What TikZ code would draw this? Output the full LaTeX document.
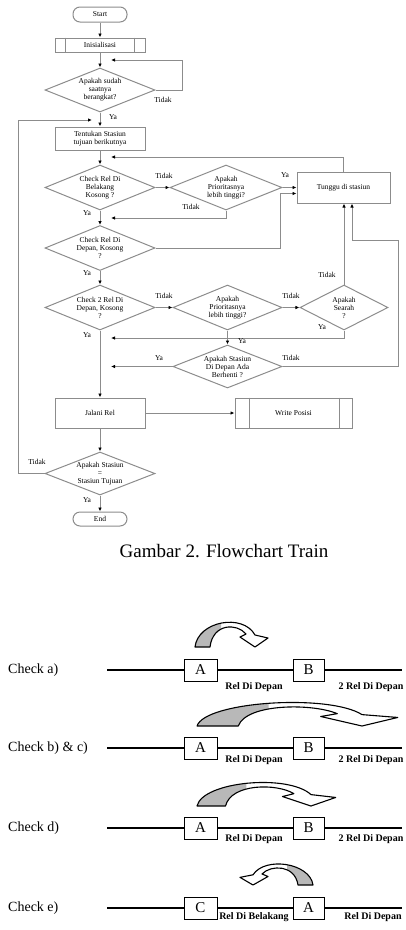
\documentclass[tikz,border=0pt]{standalone}
\usepackage{fontspec}
\setmainfont{Liberation Serif}
\usetikzlibrary{shapes.geometric,arrows.meta}

\definecolor{flowgray}{gray}{0.55}
\definecolor{bendgray}{gray}{0.72}

\tikzset{
  flowtxt/.style={font=\fontsize{7.5}{8}\selectfont, align=center},
  proc/.style={draw=flowgray, line width=1pt, flowtxt, inner sep=1pt},
  term/.style={proc, rounded corners=7pt},
  dec/.style={diamond, draw=flowgray, line width=1pt, flowtxt, inner sep=0pt, aspect=2.4},
  ans/.style={font=\fontsize{7.5}{8}\selectfont, inner sep=0pt},
  flow/.style={draw=flowgray, line width=1pt, -{Latex[length=4pt,width=3.5pt,color=black]}},
  line/.style={draw=flowgray, line width=1pt},
  track/.style={line width=1.6pt},
  car/.style={draw, line width=1pt, fill=white, font=\fontsize{15}{15}\selectfont, inner sep=0pt},
  rel/.style={font=\bfseries\fontsize{10}{10}\selectfont, inner sep=0pt},
  check/.style={font=\fontsize{14}{14}\selectfont, anchor=west, inner sep=0pt},
  bendarrow/.pic={
    \begin{scope}
      \clip (-5,5) rectangle (26,-40);
      \fill[bendgray] (0,0) .. controls (3,-26) and (48,-34) .. (60,-12) -- (73,-9) -- (60,0)
        -- (45,-10) -- (51,-13) .. controls (42,-24) and (18,-24) .. (15,0) -- cycle;
    \end{scope}
    \draw[line width=1.1pt, line join=round] (0,0) .. controls (3,-26) and (48,-34) .. (60,-12)
      -- (73,-9) -- (60,0) -- (45,-10) -- (51,-13) .. controls (42,-24) and (18,-24) .. (15,0) -- cycle;
  }
}

\begin{document}
\begin{tikzpicture}[x=1pt, y=-1pt]
\useasboundingbox (0,0) rectangle (406,930);

% flowchart
\node[term, minimum width=54pt, minimum height=15pt] (start) at (100,14.5) {Start};
\node[proc, minimum width=90pt, minimum height=14pt] (init) at (100,45) {Inisialisasi};
\draw[line] ([xshift=11pt]init.north west) -- ([xshift=11pt]init.south west)
  ([xshift=-11pt]init.north east) -- ([xshift=-11pt]init.south east);
\node[dec, minimum width=110pt, minimum height=44pt] (siap) at (100,90) {Apakah sudah\\saatnya\\berangkat?};
\node[proc, minimum width=90pt, minimum height=23pt] (tuju) at (100,138.5) {Tentukan Stasiun\\tujuan berikutnya};
\node[dec, minimum width=110pt, minimum height=45pt] (blkg) at (100,187.5) {Check Rel Di\\Belakang\\Kosong ?};
\node[dec, minimum width=112pt, minimum height=45pt] (prio1) at (226,187.5) {Apakah\\Prioritasnya\\lebih tinggi?};
\node[proc, minimum width=93pt, minimum height=31pt] (tunggu) at (343.5,187.5) {Tunggu di stasiun};
\node[dec, minimum width=110pt, minimum height=45pt] (depan) at (100,248) {Check Rel Di\\Depan, Kosong\\?};
\node[dec, minimum width=110pt, minimum height=45pt] (depan2) at (100,307.5) {Check 2 Rel Di\\Depan, Kosong\\?};
\node[dec, minimum width=109pt, minimum height=45pt] (prio2) at (227.5,307.5) {Apakah\\Prioritasnya\\lebih tinggi?};
\node[dec, minimum width=88pt, minimum height=45pt] (searah) at (344,307.5) {Apakah\\Searah\\?};
\node[dec, minimum width=109pt, minimum height=43pt] (henti) at (227.5,366.5) {Apakah Stasiun\\Di Depan Ada\\Berhenti ?};
\node[proc, minimum width=90pt, minimum height=30pt] (jalan) at (100,413) {Jalani Rel};
\node[proc, minimum width=117pt, minimum height=30pt] (tulis) at (293.5,413) {Write Posisi};
\draw[line] ([xshift=15pt]tulis.north west) -- ([xshift=15pt]tulis.south west)
  ([xshift=-13pt]tulis.north east) -- ([xshift=-13pt]tulis.south east);
\node[dec, minimum width=110pt, minimum height=43pt] (tiba) at (100,473.5) {Apakah Stasiun\\=\\Stasiun Tujuan};
\node[term, minimum width=54pt, minimum height=14pt] (end) at (100,519) {End};

\coordinate (siapin) at (111,60);
\coordinate (tujuin) at (92,120);
\coordinate (blkgin) at (111,157);
\coordinate (depanin) at (111,218);
\coordinate (searahin) at (111,338);
\coordinate (hentiin) at (111,366.5);

\draw[flow] (start) -- (init);
\draw[flow] (init) -- (siap);
\draw[flow] (siap.east) -- ++(27,0) |- (siapin);
\draw[flow] (siap) -- (tuju);
\draw[flow] (tiba.west) -| (18,120) -- (tujuin);
\draw[flow] (tuju) -- (blkg);
\draw[flow] (tunggu.north) |- (blkgin);
\draw[flow] (blkg) -- (prio1);
\draw[flow] (prio1) -- (tunggu);
\draw[flow] (prio1.south) |- (depanin);
\draw[flow] (blkg) -- (depan);
\draw[flow] (depan.east) -- (280,248) |- ([yshift=-6pt]tunggu.west);
\draw[flow] (depan) -- (depan2);
\draw[flow] (depan2) -- (prio2);
\draw[flow] (prio2) -- (searah);
\draw[flow] (searah.north) -- (searah.north |- tunggu.south);
\draw[flow] (searah.south) |- (searahin);
\draw[flow] (prio2) -- (henti);
\draw[flow] (henti.west) -- (hentiin);
\draw[flow] (henti.east) -| (398,240) -| ([xshift=8.5pt]tunggu.south);
\draw[flow] (depan2) -- (jalan);
\draw[flow] (jalan) -- (tulis);
\draw[flow] (jalan) -- (tiba);
\draw[flow] (tiba) -- (end);

\node[ans] (n1) at (163,100) {Tidak};
\node[ans] (y1) at (113,117) {Ya};
\node[ans] (n2) at (164,176) {Tidak};
\node[ans] (y2) at (285,175) {Ya};
\node[ans] (n3) at (191,207) {Tidak};
\node[ans] (y3) at (87,213) {Ya};
\node[ans] (y4) at (87,273) {Ya};
\node[ans] (n4) at (327,275) {Tidak};
\node[ans] (n5) at (164,296) {Tidak};
\node[ans] (n6) at (291,296) {Tidak};
\node[ans] (y5) at (322,327) {Ya};
\node[ans] (y6) at (87,335) {Ya};
\node[ans] (y7) at (242,341) {Ya};
\node[ans] (y8) at (159,358) {Ya};
\node[ans] (n7) at (291,358) {Tidak};
\node[ans] (n8) at (37,462) {Tidak};
\node[ans] (y9) at (87,500) {Ya};

\node[font=\fontsize{19}{22}\selectfont] (caption) at (224,551) {Gambar 2. Flowchart Train};

% check a)
\node[check] (chka) at (8,670) {Check a)};
\coordinate (a0) at (107,670);
\coordinate (a1) at (402,670);
\node[car, minimum width=33pt, minimum height=22pt] (aa) at (200.5,670) {A};
\node[car, minimum width=31pt, minimum height=22pt] (ab) at (308.5,670) {B};
\draw[track] (a0) -- (aa) -- (ab) -- (a1);
\node[rel] (ra1) at (254,687) {Rel Di Depan};
\node[rel] (ra2) at (371,687) {2 Rel Di Depan};
\pic at (195,647) {bendarrow};

% check b) & c)
\node[check] (chkb) at (8,748) {Check b) \& c)};
\coordinate (b0) at (107,748);
\coordinate (b1) at (402,748);
\node[car, minimum width=33pt, minimum height=22pt] (ba) at (200.5,748) {A};
\node[car, minimum width=31pt, minimum height=22pt] (bb) at (308.5,748) {B};
\draw[track] (b0) -- (ba) -- (bb) -- (b1);
\node[rel] (rb1) at (254,760) {Rel Di Depan};
\node[rel] (rb2) at (371,760) {2 Rel Di Depan};
\pic[xscale=2.75, yscale=0.95] at (197,726) {bendarrow};

% check d)
\node[check] (chkd) at (8,828) {Check d)};
\coordinate (d0) at (107,828);
\coordinate (d1) at (402,828);
\node[car, minimum width=33pt, minimum height=22pt] (da) at (200.5,828) {A};
\node[car, minimum width=31pt, minimum height=22pt] (db) at (308.5,828) {B};
\draw[track] (d0) -- (da) -- (db) -- (d1);
\node[rel] (rd1) at (254,839) {Rel Di Depan};
\node[rel] (rd2) at (371,839) {2 Rel Di Depan};
\pic[xscale=1.9, yscale=0.95] at (197,806) {bendarrow};

% check e)
\node[check] (chke) at (8,908) {Check e)};
\coordinate (e0) at (107,908);
\coordinate (e1) at (402,908);
\node[car, minimum width=33pt, minimum height=22pt] (ec) at (200.5,908) {C};
\node[car, minimum width=31pt, minimum height=22pt] (ea) at (308.5,908) {A};
\draw[track] (e0) -- (ec) -- (ea) -- (e1);
\node[rel] (re1) at (254,917) {Rel Di Belakang};
\node[rel] (re2) at (373,917) {Rel Di Depan};
\pic[xscale=-1, yscale=0.85] at (313,885) {bendarrow};
\end{tikzpicture}
\end{document}
